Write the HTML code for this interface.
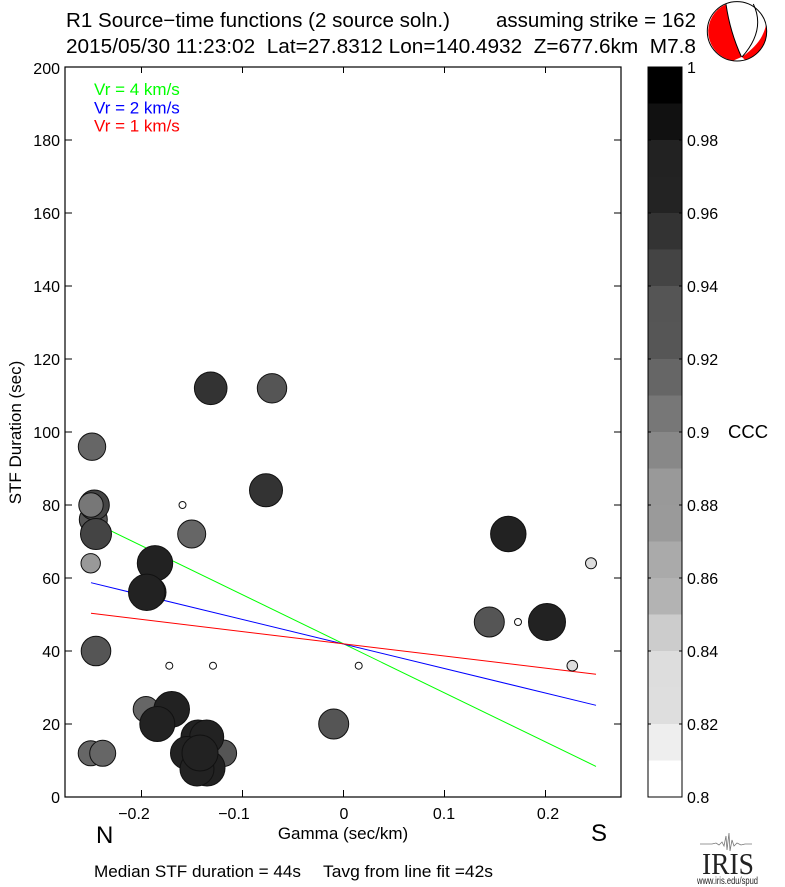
<!DOCTYPE html>
<html>
<head>
<meta charset="utf-8">
<style>
  html,body{margin:0;padding:0;background:#fff;}
  svg{display:block;}
  text{font-family:"Liberation Sans",Arial,sans-serif;fill:#000;}
  .pre{white-space:pre;}
</style>
</head>
<body>
<svg width="785" height="887" viewBox="0 0 785 887" xmlns="http://www.w3.org/2000/svg">
  <rect x="0" y="0" width="785" height="887" fill="#fff"/>

  <!-- Title -->
  <text x="66" y="27" font-size="20" textLength="384" lengthAdjust="spacingAndGlyphs">R1 Source−time functions (2 source soln.)</text>
  <text x="496" y="27" font-size="20" textLength="200" lengthAdjust="spacingAndGlyphs">assuming strike = 162</text>
  <text x="66" y="53" font-size="20" class="pre" textLength="630" lengthAdjust="spacingAndGlyphs">2015/05/30 11:23:02  Lat=27.8312 Lon=140.4932  Z=677.6km  M7.8</text>

  <!-- Beachball -->
  <circle cx="737" cy="31.3" r="29.7" fill="#fff"/>
  <path d="M726,4.2 A29.7,29.7 0 0 0 733,60.7 L741.5,57 Q730,32 726,4.2 Z" fill="#f00"/>
  <path d="M766,25 A29.7,29.7 0 0 1 745,59.9 L742,57 Q757,46 762,36 Q765,30 766,25 Z" fill="#f00"/>
  <path d="M726,4.2 Q730,32 741.5,57" fill="none" stroke="#000" stroke-width="1"/>
  <path d="M753.3,4 Q766,30 742,57" fill="none" stroke="#000" stroke-width="1"/>
  <circle cx="737" cy="31.3" r="29.7" fill="none" stroke="#000" stroke-width="1"/>

  <!-- Fit lines (drawn beneath circles) -->
  <line x1="91" y1="521.2" x2="596" y2="766.4" stroke="#00ff00" stroke-width="1"/>
  <line x1="91" y1="582.7" x2="596" y2="705.3" stroke="#0000ff" stroke-width="1"/>
  <line x1="91" y1="613.3" x2="596" y2="674.3" stroke="#ff0000" stroke-width="1"/>

  <!-- Data circles -->
  <g stroke="#111" stroke-width="1">
    <circle cx="210.7" cy="388.3" r="16.3" fill="#333"/>
    <circle cx="272" cy="388.3" r="14.7" fill="#555"/>
    <circle cx="92" cy="446.7" r="13.7" fill="#666"/>
    <circle cx="266" cy="490.3" r="16.5" fill="#333"/>
    <circle cx="182.5" cy="505" r="3.5" fill="#fff"/>
    <circle cx="93.3" cy="519.5" r="14" fill="#555"/>
    <circle cx="94.3" cy="505" r="15" fill="#444"/>
    <circle cx="91" cy="505" r="12.2" fill="#777"/>
    <circle cx="96" cy="534" r="15.5" fill="#444"/>
    <circle cx="191.7" cy="534" r="14" fill="#666"/>
    <circle cx="90.7" cy="563.3" r="9.7" fill="#999"/>
    <circle cx="155" cy="563.3" r="17.7" fill="#222"/>
    <circle cx="150" cy="592.3" r="16" fill="#333"/>
    <circle cx="146.7" cy="592.3" r="18.2" fill="#222"/>
    <circle cx="96" cy="651" r="14.8" fill="#555"/>
    <circle cx="169.3" cy="665.7" r="3.5" fill="#fff"/>
    <circle cx="213" cy="665.7" r="3.5" fill="#fff"/>

    <circle cx="90.7" cy="753.3" r="12.5" fill="#666"/>
    <circle cx="102.7" cy="753.3" r="13" fill="#666"/>
    <circle cx="146" cy="709.3" r="12.8" fill="#666"/>
    <circle cx="171.7" cy="709.3" r="17.8" fill="#222"/>
    <circle cx="157.3" cy="724" r="17.5" fill="#222"/>

    <circle cx="223.3" cy="753.3" r="13.3" fill="#555"/>
    <circle cx="198" cy="737" r="17" fill="#222"/>
    <circle cx="206.7" cy="737" r="17" fill="#222"/>
    <circle cx="187" cy="753" r="16.5" fill="#222"/>
    <circle cx="207" cy="768" r="18" fill="#222"/>
    <circle cx="197" cy="769" r="17" fill="#222"/>
    <circle cx="200" cy="753" r="18" fill="#222"/>

    <circle cx="333.7" cy="724" r="15" fill="#555"/>
    <circle cx="358.7" cy="665.7" r="3.5" fill="#fff"/>
    <circle cx="508.3" cy="534" r="17.7" fill="#222"/>
    <circle cx="591" cy="563.3" r="5.5" fill="#ddd"/>
    <circle cx="489.3" cy="622" r="15" fill="#555"/>
    <circle cx="518" cy="622" r="3.5" fill="#fff"/>
    <circle cx="547" cy="622" r="18.5" fill="#222"/>
    <circle cx="572.3" cy="665.7" r="5.3" fill="#ddd"/>
  </g>

  <!-- Axes frame -->
  <rect x="65" y="67" width="556" height="730" fill="none" stroke="#000" stroke-width="1.2"/>

  <!-- Y ticks (left & right) -->
  <g stroke="#000" stroke-width="1">
    <line x1="65" y1="724" x2="72" y2="724"/><line x1="621" y1="724" x2="614" y2="724"/>
    <line x1="65" y1="651" x2="72" y2="651"/><line x1="621" y1="651" x2="614" y2="651"/>
    <line x1="65" y1="578" x2="72" y2="578"/><line x1="621" y1="578" x2="614" y2="578"/>
    <line x1="65" y1="505" x2="72" y2="505"/><line x1="621" y1="505" x2="614" y2="505"/>
    <line x1="65" y1="432" x2="72" y2="432"/><line x1="621" y1="432" x2="614" y2="432"/>
    <line x1="65" y1="359" x2="72" y2="359"/><line x1="621" y1="359" x2="614" y2="359"/>
    <line x1="65" y1="286" x2="72" y2="286"/><line x1="621" y1="286" x2="614" y2="286"/>
    <line x1="65" y1="213" x2="72" y2="213"/><line x1="621" y1="213" x2="614" y2="213"/>
    <line x1="65" y1="140" x2="72" y2="140"/><line x1="621" y1="140" x2="614" y2="140"/>
    <!-- X ticks top & bottom -->
    <line x1="141.5" y1="67" x2="141.5" y2="73"/><line x1="141.5" y1="797" x2="141.5" y2="790"/>
    <line x1="242.5" y1="67" x2="242.5" y2="73"/><line x1="242.5" y1="797" x2="242.5" y2="790"/>
    <line x1="343.5" y1="67" x2="343.5" y2="73"/><line x1="343.5" y1="797" x2="343.5" y2="790"/>
    <line x1="444.5" y1="67" x2="444.5" y2="73"/><line x1="444.5" y1="797" x2="444.5" y2="790"/>
    <line x1="545.5" y1="67" x2="545.5" y2="73"/><line x1="545.5" y1="797" x2="545.5" y2="790"/>
  </g>

  <!-- Y tick labels -->
  <g font-size="16" text-anchor="end">
    <text x="60" y="803">0</text>
    <text x="60" y="730">20</text>
    <text x="60" y="657">40</text>
    <text x="60" y="584">60</text>
    <text x="60" y="511">80</text>
    <text x="60" y="438">100</text>
    <text x="60" y="365">120</text>
    <text x="60" y="292">140</text>
    <text x="60" y="219">160</text>
    <text x="60" y="146">180</text>
    <text x="60" y="74">200</text>
  </g>

  <!-- X tick labels -->
  <g font-size="16" text-anchor="middle">
    <text x="134" y="819">−0.2</text>
    <text x="234" y="819">−0.1</text>
    <text x="344" y="819">0</text>
    <text x="444" y="819">0.1</text>
    <text x="548" y="819">0.2</text>
  </g>

  <!-- Axis labels -->
  <text x="343" y="839" font-size="17" text-anchor="middle">Gamma (sec/km)</text>
  <text transform="translate(21,432.5) rotate(-90)" font-size="17" text-anchor="middle">STF Duration (sec)</text>
  <text x="96" y="843" font-size="24">N</text>
  <text x="591" y="841" font-size="24">S</text>

  <!-- Legend -->
  <text x="94" y="95" font-size="17" fill="#00ff00" style="fill:#00ff00">Vr = 4 km/s</text>
  <text x="94" y="113.3" font-size="17" style="fill:#0000ff">Vr = 2 km/s</text>
  <text x="94" y="131.7" font-size="17" style="fill:#ff0000">Vr = 1 km/s</text>

  <!-- Bottom text -->
  <text x="94" y="877" font-size="17" textLength="207" lengthAdjust="spacingAndGlyphs">Median STF duration = 44s</text>
  <text x="323" y="877" font-size="17" textLength="170" lengthAdjust="spacingAndGlyphs">Tavg from line fit =42s</text>

  <!-- Colorbar -->
  <g>
    <rect x="648" y="67" width="34" height="36.5" fill="#000"/>
    <rect x="648" y="103.5" width="34" height="36.5" fill="#111"/>
    <rect x="648" y="140" width="34" height="36.5" fill="#222"/>
    <rect x="648" y="176.5" width="34" height="36.5" fill="#232323"/>
    <rect x="648" y="213" width="34" height="36.5" fill="#333"/>
    <rect x="648" y="249.5" width="34" height="36.5" fill="#444"/>
    <rect x="648" y="286" width="34" height="36.5" fill="#555"/>
    <rect x="648" y="322.5" width="34" height="36.5" fill="#565656"/>
    <rect x="648" y="359" width="34" height="36.5" fill="#666"/>
    <rect x="648" y="395.5" width="34" height="36.5" fill="#777"/>
    <rect x="648" y="432" width="34" height="36.5" fill="#888"/>
    <rect x="648" y="468.5" width="34" height="36.5" fill="#999"/>
    <rect x="648" y="505" width="34" height="36.5" fill="#9a9a9a"/>
    <rect x="648" y="541.5" width="34" height="36.5" fill="#aaa"/>
    <rect x="648" y="578" width="34" height="36.5" fill="#b3b3b3"/>
    <rect x="648" y="614.5" width="34" height="36.5" fill="#ccc"/>
    <rect x="648" y="651" width="34" height="36.5" fill="#ddd"/>
    <rect x="648" y="687.5" width="34" height="36.5" fill="#dedede"/>
    <rect x="648" y="724" width="34" height="36.5" fill="#eee"/>
    <rect x="648" y="760.5" width="34" height="36.5" fill="#fff"/>
    <rect x="648" y="67" width="34" height="730" fill="none" stroke="#000" stroke-width="1"/>
    <g stroke="#000" stroke-width="1">
      <line x1="648" y1="140" x2="651" y2="140"/><line x1="682" y1="140" x2="679" y2="140"/>
      <line x1="648" y1="213" x2="651" y2="213"/><line x1="682" y1="213" x2="679" y2="213"/>
      <line x1="648" y1="286" x2="651" y2="286"/><line x1="682" y1="286" x2="679" y2="286"/>
      <line x1="648" y1="359" x2="651" y2="359"/><line x1="682" y1="359" x2="679" y2="359"/>
      <line x1="648" y1="432" x2="651" y2="432"/><line x1="682" y1="432" x2="679" y2="432"/>
      <line x1="648" y1="505" x2="651" y2="505"/><line x1="682" y1="505" x2="679" y2="505"/>
      <line x1="648" y1="578" x2="651" y2="578"/><line x1="682" y1="578" x2="679" y2="578"/>
      <line x1="648" y1="651" x2="651" y2="651"/><line x1="682" y1="651" x2="679" y2="651"/>
      <line x1="648" y1="724" x2="651" y2="724"/><line x1="682" y1="724" x2="679" y2="724"/>
    </g>
    <g font-size="16">
      <text x="687" y="73">1</text>
      <text x="687" y="146">0.98</text>
      <text x="687" y="219">0.96</text>
      <text x="687" y="292">0.94</text>
      <text x="687" y="365">0.92</text>
      <text x="687" y="438">0.9</text>
      <text x="687" y="511">0.88</text>
      <text x="687" y="584">0.86</text>
      <text x="687" y="657">0.84</text>
      <text x="687" y="730">0.82</text>
      <text x="687" y="803">0.8</text>
    </g>
    <text x="728" y="438" font-size="18.5">CCC</text>
  </g>

  <!-- IRIS logo -->
  <polyline points="700,844 712,844 716,843 719,845 722,842 724,846 726,836 727,850 729,833 730,851 732,840 734,846 737,843 741,845 745,844 752,844" fill="none" stroke="#777" stroke-width="0.8"/>
  <text x="702" y="874" font-size="31" textLength="52" lengthAdjust="spacingAndGlyphs" style="font-family:'Liberation Serif','Times New Roman',serif;fill:#222">IRIS</text>
  <text x="697" y="884" font-size="10" textLength="61" lengthAdjust="spacingAndGlyphs" style="fill:#222">www.iris.edu/spud</text>
</svg>
</body>
</html>
